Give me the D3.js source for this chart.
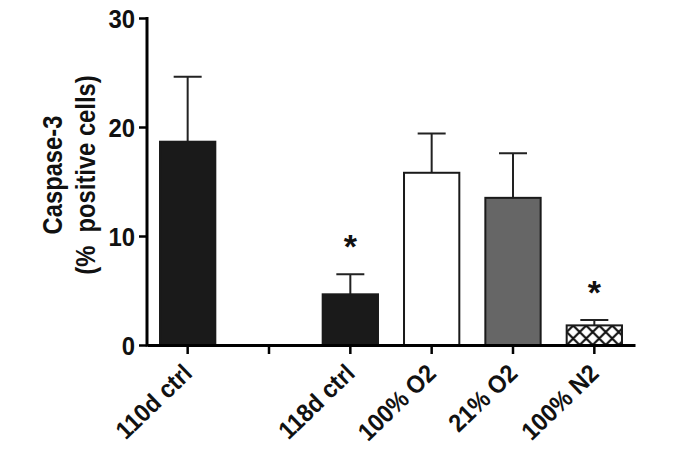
<!DOCTYPE html>
<html>
<head>
<meta charset="utf-8">
<script src="https://cdn.jsdelivr.net/npm/d3@7"></script>
<style>
body{margin:0;background:#fff}
text{font-family:"Liberation Sans",Arial,sans-serif;font-weight:bold;fill:#111}
</style>
</head>
<body>
<svg id="chart" width="675" height="450"></svg>
<script>
// categories ("" is the empty slot between the two controls)
const categories = ['110d ctrl', '', '118d ctrl', '100% O2', '21% O2', '100% N2']
const means = [18.65, null, 4.65, 15.8, 13.5, 1.8]
const errors = [5.95, null, 1.85, 3.6, 4.1, 0.5]
const significant = [false, false, true, false, false, true]
const fills = ['#1a1a1a', null, '#1a1a1a', '#ffffff', '#666666', 'url(#hatch)']
const yTicks = [0, 10, 20, 30]

const svg = d3.select('#chart')
const x = d3.scaleBand().domain(categories).range([147, 635]).paddingInner(0.32).paddingOuter(0.16)
const y = d3.scaleLinear().domain([0, 30]).range([345, 18])

// crosshatch pattern
const hs = 13
const pat = svg.append('defs').append('pattern')
    .attr('id', 'hatch').attr('patternUnits', 'userSpaceOnUse')
    .attr('x', x('100% N2')).attr('y', y(0))
    .attr('width', hs).attr('height', hs)
pat.append('rect').attr('width', hs).attr('height', hs).attr('fill', '#fff')
pat.append('path').attr('d', `M0,0L${hs},${hs}M${hs},0L0,${hs}`)
    .attr('stroke', '#111').attr('stroke-width', 2.2)

const data = categories.map((c, i) => ({c, m: means[i], e: errors[i], s: significant[i], f: fills[i]}))
    .filter(d => d.m !== null)

const g = svg.append('g')

// error bars (upper only)
const cap = 14
g.selectAll('path.err').data(data).join('path')
    .attr('class', 'err')
    .attr('d', d => {
        const cx = x(d.c) + x.bandwidth() / 2
        return `M${cx},${y(d.m)}V${y(d.m + d.e)}M${cx - cap},${y(d.m + d.e)}H${cx + cap}`
    })
    .attr('stroke', '#222').attr('stroke-width', 2).attr('fill', 'none')

g.selectAll('rect.bar').data(data).join('rect')
    .attr('class', 'bar')
    .attr('x', d => x(d.c))
    .attr('y', d => y(d.m))
    .attr('width', x.bandwidth())
    .attr('height', d => y(0) - y(d.m))
    .attr('fill', d => d.f)
    .attr('stroke', '#1a1a1a').attr('stroke-width', 2)

g.selectAll('text.star').data(data.filter(d => d.s)).join('text')
    .attr('class', 'star')
    .attr('x', d => x(d.c) + x.bandwidth() / 2)
    .attr('y', d => y(d.m + d.e) - 16)
    .attr('text-anchor', 'middle')
    .style('font-size', '34px')
    .text('*')

// axes
const yAxis = svg.append('g').attr('transform', 'translate(147,0)')
    .call(d3.axisLeft(y).tickValues(yTicks).tickSize(8).tickPadding(3))
yAxis.select('.domain').attr('stroke-width', 3).attr('d', `M0,${y(30) - 1}V${y(0) + 1.5}`)
yAxis.selectAll('.tick line').attr('stroke-width', 2.5)
yAxis.selectAll('.tick text')
    .style('font-size', '26px')
    .attr('x', 0).attr('dy', '0.36em')
    .attr('transform', 'translate(-12,0) scale(0.92,1)')

const xAxis = svg.append('g').attr('transform', `translate(0,${y(0)})`)
    .call(d3.axisBottom(x).tickSize(9).tickSizeOuter(0))
xAxis.select('.domain').attr('stroke-width', 3)
xAxis.selectAll('.tick line').attr('stroke-width', 2.5)
xAxis.selectAll('.tick text')
    .style('font-size', '25px')
    .attr('text-anchor', 'end')
    .attr('y', 0).attr('dy', 0)
    .attr('transform', 'translate(6,30) rotate(-44) scale(0.93,1)')

// y title
const yt = svg.append('text')
    .attr('transform', 'translate(62,175) rotate(-90) scale(0.88,1)')
    .attr('text-anchor', 'middle')
    .style('font-size', '27px')
yt.append('tspan').attr('x', 0).attr('y', 0).text('Caspase-3')
yt.append('tspan').attr('x', 0).attr('y', 33).attr('xml:space', 'preserve').text('(%  positive cells)')
</script>
</body>
</html>
